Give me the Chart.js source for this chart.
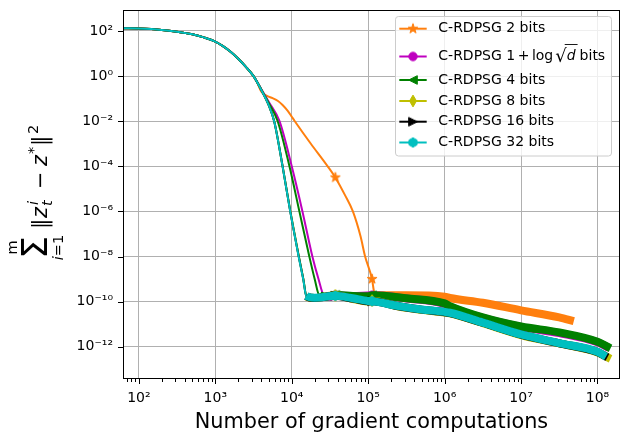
<!DOCTYPE html>
<html><head><meta charset="utf-8">
<script src="https://cdn.jsdelivr.net/npm/chart.js@4.4.0/dist/chart.umd.min.js"></script>
<style>html,body{margin:0;padding:0;background:#fff;overflow:hidden}canvas{display:block}</style>
</head><body>
<canvas id="c" width="629" height="443" style="width:629px;height:443px"></canvas>
<script>
// ---------- data ----------
const headX = [62, 100, 200, 316, 501, 708, 1000, 1259, 1585, 1995, 2512, 3162];
const headY = [132, 129, 112, 93, 71, 52, 34, 21.4, 12.0, 5.9, 2.57, 1.0];

const orangeX = [3548, 3981, 4677, 5623, 6607, 7586, 8913, 10000, 10965, 17783, 29512, 37154, 50119, 63096, 79433, 91201, 112202, 120226, 131826, 316228, 1000000, 1175000, 3162000, 10000000, 31620000, 49000000];
const orangeY = [0.5, 0.21, 0.135, 0.105, 0.079, 0.052, 0.028, 0.0158, 0.01, 1e-3, 1e-4, 3.2e-5, 5e-6, 1e-6, 7.9e-8, 1e-8, 1e-9, 2.5e-10, 1.9e-10, 1.9e-10, 1.66e-10, 1.45e-10, 8.9e-11, 4.1e-11, 2.0e-11, 1.35e-11];

const magentaX = [3981, 5012, 6918, 10000, 13804, 18621, 22387, 26303, 31623, 37154, 63096, 112202, 316228, 1000000, 1175000, 3162000, 10000000, 31620000, 100000000, 141000000];
const magentaY = [0.27, 0.071, 0.01, 1e-4, 1e-6, 1e-8, 1e-9, 1.9e-10, 1.66e-10, 1.9e-10, 1.78e-10, 1.9e-10, 1.38e-10, 7.9e-11, 6.0e-11, 1.9e-11, 7.6e-12, 4e-12, 1.58e-12, 8.9e-13];

const greenX = [3981, 5012, 6546, 9333, 12589, 16982, 19953, 22909, 28184, 37154, 63096, 100000, 112202, 316228, 1000000, 1175000, 3162000, 10000000, 31620000, 100000000, 148000000];
const greenY = [0.263, 0.063, 0.01, 1e-4, 1e-6, 1e-8, 1e-9, 1.9e-10, 1.66e-10, 2e-10, 1.78e-10, 1.74e-10, 1.9e-10, 1.41e-10, 8.3e-11, 6.3e-11, 2e-11, 7.9e-12, 4.3e-12, 1.66e-12, 8.5e-13];

const yellowX = [3981, 5012, 5900, 7600, 9600, 12400, 14200, 15600, 20000, 37154, 63096, 100000, 112202, 251189, 501187, 1000000, 1175000, 3162000, 10000000, 31620000, 100000000, 148000000];
const yellowY = [0.25, 0.05, 0.01, 1e-4, 1e-6, 1e-8, 1e-9, 1.7e-10, 1.45e-10, 1.9e-10, 1.3e-10, 1.0e-10, 1.1e-10, 6.0e-11, 4.3e-11, 3.3e-11, 3.0e-11, 1.1e-11, 3.3e-12, 1.4e-12, 5.6e-13, 2.9e-13];

const blackX = [3981, 5012, 5890, 7590, 9560, 12350, 14150, 15550, 20000, 37154, 63096, 100000, 112202, 251189, 501187, 1000000, 1175000, 3162000, 10000000, 31620000, 100000000, 135000000];
const blackY = [0.25, 0.05, 0.01, 1e-4, 1e-6, 1e-8, 1e-9, 1.75e-10, 1.45e-10, 1.8e-10, 1.35e-10, 1.05e-10, 1.05e-10, 6.2e-11, 4.4e-11, 3.4e-11, 3.1e-11, 1.15e-11, 3.4e-12, 1.42e-12, 5.8e-13, 3.4e-13];

const cyanX = [3981, 5012, 5888, 7586, 9550, 12303, 14125, 15500, 20000, 37154, 63096, 100000, 112202, 251189, 501187, 1000000, 1175000, 3162000, 10000000, 31620000, 100000000, 129000000];
const cyanY = [0.25, 0.05, 0.01, 1e-4, 1e-6, 1e-8, 1e-9, 1.8e-10, 1.5e-10, 1.8e-10, 1.4e-10, 1.07e-10, 1.05e-10, 6.3e-11, 4.5e-11, 3.5e-11, 3.2e-11, 1.17e-11, 3.5e-12, 1.45e-12, 6.0e-13, 3.6e-13];

const markerX = [37154, 112202];
const seriesLabels = ['C-RDPSG 2 bits', 'C-RDPSG 1 + log √d bits', 'C-RDPSG 4 bits', 'C-RDPSG 8 bits', 'C-RDPSG 16 bits', 'C-RDPSG 32 bits'];
const xTickExps = [2, 3, 4, 5, 6, 7, 8];
const yTickExps = [2, 0, -2, -4, -6, -8, -10, -12];
const xTitle = 'Number of gradient computations';

// ---------- helpers ----------
const SUP = {'0':'⁰','1':'¹','2':'²','3':'³','4':'⁴','5':'⁵','6':'⁶','7':'⁷','8':'⁸','9':'⁹','-':'⁻'};
const powLabel = e => '10' + String(e).split('').map(c => SUP[c]).join('');
const expOf = v => { const l = Math.log10(v), r = Math.round(l); return Math.abs(l - r) < 1e-6 ? r : null; };
const FONT = '"DejaVu Sans", "Liberation Sans", sans-serif';
Chart.defaults.font.family = FONT;
Chart.defaults.color = '#000';

function mk(shape, color) {
  const s = 16, c = document.createElement('canvas');
  c.width = s; c.height = s;
  const g = c.getContext('2d');
  g.translate(s / 2, s / 2);
  g.fillStyle = color; g.strokeStyle = color; g.lineWidth = 1; g.lineJoin = 'miter';
  g.beginPath();
  if (shape === 'star') {
    for (let k = 0; k < 10; k++) { const r = k % 2 ? 2.0 : 5.2, a = -Math.PI / 2 + k * Math.PI / 5; g.lineTo(r * Math.cos(a), r * Math.sin(a)); }
  } else if (shape === 'circle') { g.arc(0, 0, 4.2, 0, 2 * Math.PI); }
  else if (shape === 'tleft') { g.moveTo(-4.3, 0); g.lineTo(4.3, -4.3); g.lineTo(4.3, 4.3); }
  else if (shape === 'tright') { g.moveTo(4.3, 0); g.lineTo(-4.3, -4.3); g.lineTo(-4.3, 4.3); }
  else if (shape === 'thin') { g.moveTo(0, -5.9); g.lineTo(3.5, 0); g.lineTo(0, 5.9); g.lineTo(-3.5, 0); }
  else if (shape === 'hex') { for (let k = 0; k < 6; k++) { const a = -Math.PI / 2 + k * Math.PI / 3; g.lineTo(4.7 * Math.cos(a), 4.7 * Math.sin(a)); } }
  g.closePath(); g.fill(); g.stroke();
  return c;
}

const styles = [
  {color: '#ff7f0e', shape: 'star',   bandFrom: 120226},
  {color: '#bf00bf', shape: 'circle', bandFrom: 26303},
  {color: '#008000', shape: 'tleft',  bandFrom: 22909},
  {color: '#bfbf00', shape: 'thin',   bandFrom: 15600},
  {color: '#000000', shape: 'tright', bandFrom: 15550},
  {color: '#00bfbf', shape: 'hex',    bandFrom: 15500}
];
const seriesXs = [orangeX, magentaX, greenX, yellowX, blackX, cyanX];
const seriesYs = [orangeY, magentaY, greenY, yellowY, blackY, cyanY];

const datasets = seriesLabels.map((label, i) => {
  const xs = headX.concat(seriesXs[i]);
  const ys = headY.concat(seriesYs[i]);
  const st = styles[i];
  const img = mk(st.shape, st.color);
  st.img = img;
  return {
    label,
    data: xs.map((x, k) => ({x, y: ys[k]})),
    borderColor: st.color,
    backgroundColor: st.color,
    borderWidth: 2,
    borderJoinStyle: 'round',
    cubicInterpolationMode: 'monotone',
    fill: false,
    clip: 0,
    order: seriesLabels.length - i,
    pointStyle: img,
    pointRadius: c => (c.raw && markerX.includes(c.raw.x)) ? 5 : 0,
    pointHoverRadius: 0,
    pointHitRadius: 0,
    segment: { borderWidth: c => (c.p0.parsed.x >= st.bandFrom ? 8 : 2) }
  };
});

const zeroPad = s => { s.paddingTop = 0; s.paddingBottom = 0; s.paddingLeft = 0; s.paddingRight = 0; };

// ---------- plugins: spines, tick marks, legend, y label ----------
const decor = {
  id: 'decor',
  afterDraw(chart) {
    const {ctx, chartArea: a, scales: {x, y}} = chart;
    ctx.save();
    ctx.strokeStyle = '#000'; ctx.lineWidth = 1;
    const line = (x1, y1, x2, y2) => { ctx.beginPath(); ctx.moveTo(x1, y1); ctx.lineTo(x2, y2); ctx.stroke(); };
    // x tick marks (major + minor)
    x.ticks.forEach(t => {
      const v = t.value; if (v <= x.min || v >= x.max) return;
      let len = 0;
      if (expOf(v) !== null) len = 5;
      else { const e0 = Math.floor(Math.log10(v) + 1e-9), m = v / Math.pow(10, e0); if (Math.abs(m - Math.round(m)) < 1e-6) len = 3; }
      if (len) { const px = Math.round(x.getPixelForValue(v)) + 0.5; line(px, a.bottom, px, a.bottom + len); }
    });
    yTickExps.forEach(e => { const py = Math.round(y.getPixelForValue(Math.pow(10, e))) + 0.5; line(a.left - 5, py, a.left, py); });
    // spines
    ctx.strokeRect(a.left + 0.5, a.top + 0.5, a.right - a.left - 1, a.bottom - a.top - 1);

    // legend
    const L = {x: 395.5, y: 16.5, w: 216, h: 139.5, r: 3};
    ctx.beginPath();
    ctx.moveTo(L.x + L.r, L.y); ctx.lineTo(L.x + L.w - L.r, L.y); ctx.quadraticCurveTo(L.x + L.w, L.y, L.x + L.w, L.y + L.r);
    ctx.lineTo(L.x + L.w, L.y + L.h - L.r); ctx.quadraticCurveTo(L.x + L.w, L.y + L.h, L.x + L.w - L.r, L.y + L.h);
    ctx.lineTo(L.x + L.r, L.y + L.h); ctx.quadraticCurveTo(L.x, L.y + L.h, L.x, L.y + L.h - L.r);
    ctx.lineTo(L.x, L.y + L.r); ctx.quadraticCurveTo(L.x, L.y, L.x + L.r, L.y); ctx.closePath();
    ctx.fillStyle = 'rgba(255,255,255,0.8)'; ctx.fill();
    ctx.strokeStyle = '#cccccc'; ctx.stroke();
    const rows = [28.7, 56.5, 80, 101, 121.7, 142.5];
    ctx.textBaseline = 'middle'; ctx.textAlign = 'left';
    styles.forEach((st, i) => {
      const yy = rows[i];
      ctx.strokeStyle = st.color; ctx.lineWidth = 2;
      line(399.3, yy, 426.7, yy);
      ctx.drawImage(st.img, 413 - st.img.width / 2, yy - st.img.height / 2);
      ctx.fillStyle = '#000';
      ctx.font = '14px ' + FONT;
      if (i !== 1) { ctx.fillText(seriesLabels[i], 438.3, yy); }
      else {
        let cx = 438.3;
        const put = (t, f, dy, gap) => { ctx.font = f; ctx.fillText(t, cx, yy + dy); const w = ctx.measureText(t).width; const x0 = cx; cx += w + gap; return [x0, w]; };
        put('C-RDPSG ', '14px ' + FONT, 0, 0);
        put('1', '14px ' + FONT, 0, 2.5);
        put('+', '14px ' + FONT, 0, 2.5);
        put('log', '14px ' + FONT, 0, 2);
        put('√', '18px ' + FONT, 1, 0);
        const [dx, dw] = put('d', 'italic 14px ' + FONT, 0, 4);
        ctx.strokeStyle = '#000'; ctx.lineWidth = 0.9;
        line(dx - 2, 44.5, dx + dw + 2, 44.5);
        put('bits', '14px ' + FONT, 0, 0);
      }
    });

    // y axis label: sum_{i=1}^m ||z_t^i - z^*||^2, rotated
    ctx.translate(47, 263); ctx.rotate(-Math.PI / 2);
    ctx.fillStyle = '#000'; ctx.textBaseline = 'alphabetic';
    const F = (s, it) => (it ? 'italic ' : '') + s + 'px ' + FONT;
    ctx.textAlign = 'center';
    ctx.font = F(36); ctx.fillText('Σ', 15.5, 0);
    ctx.font = F(14.5); ctx.fillText('m', 15.5, -30);
    ctx.textAlign = 'left';
    ctx.font = F(14.5, true); const wi = ctx.measureText('i').width;
    ctx.font = F(14.5); const we = ctx.measureText('=1').width;
    const sx = 15.5 - (wi + we) / 2;
    ctx.font = F(14.5, true); ctx.fillText('i', sx, 16);
    ctx.font = F(14.5); ctx.fillText('=1', sx + wi, 16);
    ctx.font = F(20.8); ctx.fillText('‖', 34, 0);
    ctx.font = F(20.8, true); ctx.fillText('z', 45, 0);
    ctx.font = F(14.5, true); ctx.fillText('i', 58, -9); ctx.fillText('t', 57, 5);
    ctx.font = F(20.8); ctx.fillText('−', 74, 0);
    ctx.font = F(20.8, true); ctx.fillText('z', 97, 0);
    ctx.font = F(14.5); ctx.fillText('*', 109, -9);
    ctx.font = F(20.8); ctx.fillText('‖', 117, 0);
    ctx.font = F(14.5); ctx.fillText('2', 129, -9);
    ctx.restore();
  }
};

new Chart(document.getElementById('c'), {
  type: 'line',
  data: {datasets},
  options: {
    responsive: false,
    animation: false,
    events: [],
    layout: {padding: {left: 0, top: 10, right: 9, bottom: 0}},
    plugins: {legend: {display: false}, tooltip: {enabled: false}},
    scales: {
      x: {
        type: 'logarithmic', min: 62, max: 1.97e8,
        afterFit: s => { s.height = 64; zeroPad(s); },
        border: {display: false},
        grid: {drawTicks: false, lineWidth: 1, color: c => (c.tick && expOf(c.tick.value) !== null && c.tick.value > 62 ? '#b0b0b0' : 'rgba(0,0,0,0)')},
        ticks: {
          autoSkip: false, maxRotation: 0, minRotation: 0, padding: 11,
          font: {size: 14}, color: '#000',
          callback: v => { const e = expOf(v); return (e !== null && xTickExps.includes(e)) ? powLabel(e) : ''; }
        },
        title: {display: true, text: xTitle, font: {size: 20.8}, color: '#000', padding: {top: 0, bottom: 8}}
      },
      y: {
        type: 'logarithmic', min: 3.7e-14, max: 853,
        afterFit: s => { s.width = 123; zeroPad(s); },
        border: {display: false},
        grid: {drawTicks: false, lineWidth: 1, color: c => { const e = c.tick ? expOf(c.tick.value) : null; return (e !== null && yTickExps.includes(e)) ? '#b0b0b0' : 'rgba(0,0,0,0)'; }},
        ticks: {
          autoSkip: false, padding: 10, font: {size: 14}, color: '#000',
          callback: v => { const e = expOf(v); return (e !== null && yTickExps.includes(e)) ? powLabel(e) : ''; }
        }
      }
    }
  },
  plugins: [decor]
});
</script>
</body></html>
